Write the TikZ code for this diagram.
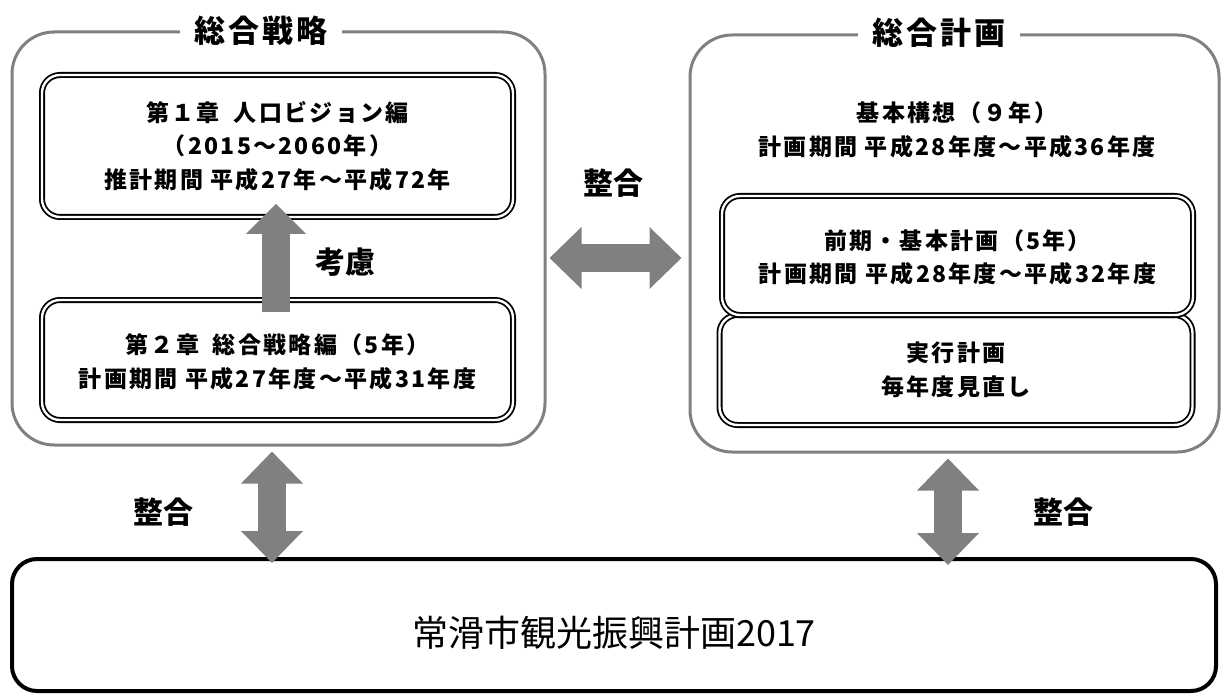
\documentclass[tikz,border=0pt]{standalone}
\usepackage{fontspec}
\setmainfont{Noto Sans CJK JP}
\newfontfamily\jpsp[LetterSpace=10]{Noto Sans CJK JP}
\usetikzlibrary{arrows.meta,calc}
\definecolor{framegray}{RGB}{128,128,128}
\definecolor{arrowgray}{RGB}{128,128,128}
\begin{document}
\begin{tikzpicture}[x=1pt,y=-1pt,
  outerbox/.style={draw=framegray, line width=3pt, rounded corners=42pt, inner sep=0pt},
  dblbox/.style={draw=black, double=white, line width=1.8pt, double distance=2.4pt, rounded corners=18pt, inner sep=0pt},
  body/.style={font=\jpsp\bfseries\fontsize{23}{33.5}\selectfont, align=center, inner sep=0pt},
  titletext/.style={fill=white, inner xsep=14pt, inner ysep=3pt, font=\jpsp\bfseries\fontsize{31}{31}\selectfont},
  lbl/.style={font=\bfseries\fontsize{30}{30}\selectfont, inner sep=0pt},
  fatone/.style={draw=arrowgray, line width=28pt, -{Triangle[length=30pt 0 0, width=58pt 0 0]}},
  fattwo/.style={draw=arrowgray, line width=28pt, {Triangle[length=32pt 0 0, width=60pt 0 0]}-{Triangle[length=32pt 0 0, width=60pt 0 0]}}
]
\useasboundingbox (0,0) rectangle (1223,695);

% outer frames
\node[outerbox, minimum width=533pt, minimum height=413pt] (LS) at (278.5,238.5) {};
\node[titletext] (LT) at (261,31) {総合戦略};
\node[outerbox, minimum width=529pt, minimum height=417pt] (RS) at (954.5,243.5) {};
\node[titletext] (RT) at (939,33) {総合計画};

% left inner boxes
\node[dblbox, minimum width=471pt, minimum height=142pt] (C1) at (277.5,146) {};
\node[body] (C1t) at (C1.center) {第１章\hspace{0.6em}人口ビジョン編\\（2015～2060年）\\推計期間 平成27年～平成72年};
\node[dblbox, minimum width=471pt, minimum height=120pt] (C2) at (277.5,360) {};
\node[body] (C2t) at ($(C2.center)+(0,2)$) {第２章\hspace{0.6em}総合戦略編（5年）\\計画期間 平成27年度～平成31年度};

% right inner content
\node[body] (RP) at (957,130) {基本構想（９年）\\計画期間 平成28年度～平成36年度};
\node[dblbox, minimum width=473pt, minimum height=110pt] (BB2) at (956,370) {};
\node[dblbox, minimum width=471pt, minimum height=119pt] (BA) at (957.5,255.5) {};
\node[body] (BAt) at ($(BA.center)+(0,2)$) {前期・基本計画（5年）\\計画期間 平成28年度～平成32年度};
\node[body] (BBt) at (BB2.center) {実行計画\\毎年度見直し};

% bottom box
\node[draw=black, line width=4pt, rounded corners=25pt, minimum width=1204pt, minimum height=132pt, inner sep=0pt] (BB) at (614,625) {};
\node[font=\fontsize{36}{36}\selectfont, inner sep=0pt] (BT) at ($(BB.center)+(0,8)$) {常滑市観光振興計画2017};

% arrows
\draw[fatone] ($(C2.north)+(-1.5,13)$) -- ($(C1.south)+(-1.5,-14)$);
\coordinate (h1) at ($(LS.east)+(3,19.5)$);
\draw[fattwo] (h1) -- ($(h1 -| RS.west)+(-7,0)$);
\coordinate (d1) at ($(LS.south)+(-6.5,5)$);
\draw[fattwo] (d1) -- ($(d1 |- BB.north)+(0,6)$);
\coordinate (d2) at ($(RS.south)+(-6.5,5)$);
\draw[fattwo] (d2) -- ($(d2 |- BB.north)+(0,8)$);

% labels
\node[lbl] (K) at (345,262) {考慮};
\node[lbl] (S1) at (613,183) {整合};
\node[lbl] (S2) at (163,512) {整合};
\node[lbl] (S3) at (1063,512) {整合};
\end{tikzpicture}
\end{document}
